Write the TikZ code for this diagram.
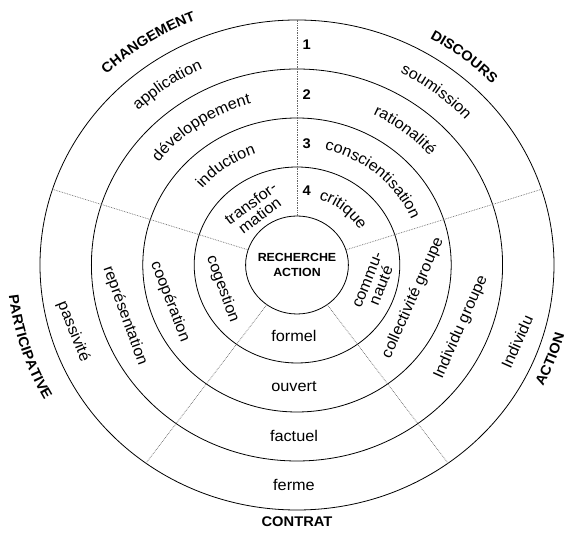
\documentclass[tikz,border=0pt]{standalone}
\usepackage{fontspec}
\setmainfont{Liberation Sans}[FakeStretch=1.05]
\usetikzlibrary{decorations.text}
\newcommand\bodyf{\fontsize{15.5}{15}\selectfont}
\newcommand\labf{\fontsize{14}{16}\selectfont\bfseries}
\newcommand\centf{\fontsize{11.8}{14.6}\selectfont\bfseries}
\newcommand\cwtext[4]{%
  \path[decorate,decoration={text along path,text align=center,text={|#3|#4}}]
  ({#1+40}:{1.05*#2*1pt} and {#2*1pt}) arc[start angle={#1+40},end angle={#1-40},x radius={1.05*#2*1pt},y radius={#2*1pt}];}
\newcommand\ccwtext[4]{%
  \path[decorate,decoration={text along path,text align=center,text={|#3|#4}}]
  ({#1-40}:{1.05*#2*1pt} and {#2*1pt}) arc[start angle={#1-40},end angle={#1+40},x radius={1.05*#2*1pt},y radius={#2*1pt}];}
\begin{document}
\begin{tikzpicture}[x=1pt,y=1pt,
  ring/.style={draw=black,line width=0.8pt},
  divider/.style={draw=black!60,line width=0.7pt,densely dotted},
  word/.style={font=\bodyf,inner sep=0pt},
  twoline/.style={font=\bodyf,inner sep=0pt,align=center},
  num/.style={font=\labf,inner sep=0pt},
  caps/.style={font=\labf,inner sep=0pt},
  centre/.style={font=\centf,inner sep=0pt,align=center}]
\useasboundingbox (-297,-269) rectangle (269,265);
\foreach \k in {1,...,5}
  \draw[ring] (0,0) ellipse[x radius={51.4*\k*1pt},y radius={49*\k*1pt}];
\foreach \a in {18,90,162,234,306}{
  \coordinate (in\a) at (\a:51.4pt and 49pt);
  \coordinate (out\a) at (\a:257pt and 245pt);
  \draw[divider] (in\a) -- (out\a);}
\node[centre] (rc) at (0,0) {RECHERCHE\\ACTION};
% numbers
\node[num] (n1) at (9.7,220) {1};
\node[num] (n2) at (9.7,170) {2};
\node[num] (n3) at (9.7,121.7) {3};
\node[num] (n4) at (9.7,74.3) {4};
% top-left sector
\cwtext{125}{216}{\bodyf}{application}
\cwtext{124}{167}{\bodyf}{développement}
\cwtext{125}{118}{\bodyf}{induction}
\node[twoline,rotate=37] (transf) at (-42,55.7) {transfor-\\mation};
% top-right sector
\cwtext{52}{216}{\bodyf}{soumission}
\cwtext{52}{167}{\bodyf}{rationalité}
\cwtext{49.5}{118}{\bodyf}{conscientisation}
\cwtext{51}{69}{\bodyf}{critique}
% right sector
\node[twoline,rotate=68] (commu) at (78,-18) {commu-\\nauté};
\node[word,rotate=66] (collg) at (116,-33) {collectivité groupe};
\node[word,rotate=66] (indg) at (164,-62) {Individu groupe};
\node[word,rotate=66] (ind) at (220,-77) {Individu};
% bottom sector
\node[word,anchor=base] (formel) at (-3,-77) {formel};
\node[word,anchor=base] (ouvert) at (-3,-127) {ouvert};
\node[word,anchor=base] (factuel) at (-3,-176.5) {factuel};
\node[word,anchor=base] (ferme) at (-3,-226) {ferme};
% left sector
\node[word,rotate=-70] (coges) at (-74.5,-24) {cogestion};
\node[word,rotate=-69] (coop) at (-127,-36.7) {coopération};
\node[word,rotate=-70] (repr) at (-172,-50.8) {représentation};
\node[word,rotate=-68] (passiv) at (-223.7,-66.7) {passivité};
% outer labels
\cwtext{123}{263}{\labf}{CHANGEMENT}
\cwtext{52}{259.5}{\labf}{DISCOURS}
\ccwtext{-21}{264}{\labf}{ACTION}
\ccwtext{197.5}{276}{\labf}{PARTICIPATIVE}
\node[caps,anchor=base] (contrat) at (0,-262) {CONTRAT};
\end{tikzpicture}
\end{document}
